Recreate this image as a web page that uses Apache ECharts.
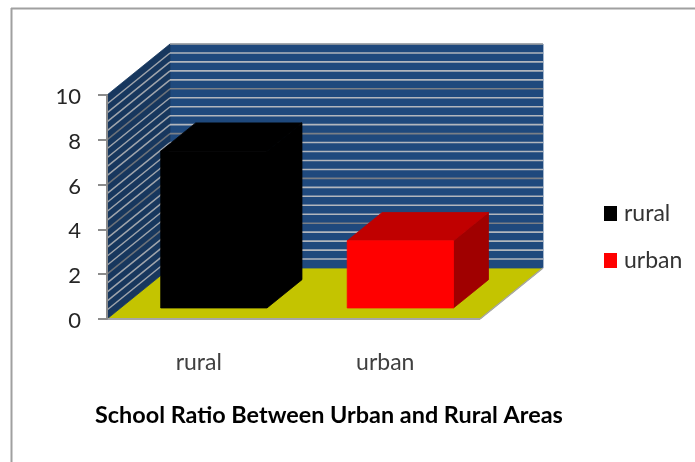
<!DOCTYPE html>
<html><head><meta charset="utf-8">
<style>html,body{margin:0;padding:0;background:#fff}#c{width:695px;height:462px}</style>
<script src="https://cdn.jsdelivr.net/npm/echarts@6/dist/echarts.min.js"></script>
</head><body><div id="c"></div>
<script>
const categories = ['rural', 'urban'];
const ruralValues = [['rural', 7]];
const urbanValues = [['urban', 3]];
const yTicks = { min: 0, max: 10, interval: 2 };
const stripeStep = 0.4;

const DEPTH_X = 63, DEPTH_Y = 51;
const BAR_NEAR = 0.216, BAR_FAR = 0.771, BAR_WIDTH = 0.57;
const FONT = 'Lato';

function poly(points, fill) {
  return { type: 'polygon', shape: { points }, style: { fill, stroke: fill, lineWidth: 0.8 } };
}
function seg(x1, y1, x2, y2, stroke, lineWidth) {
  return { type: 'line', shape: { x1, y1, x2, y2 }, style: { stroke, lineWidth } };
}

function renderWalls(params, api) {
  const r = params.coordSys;
  const x0 = r.x, x1 = r.x + r.width;
  const yBase = api.coord([0, yTicks.min])[1], yTop = api.coord([0, yTicks.max])[1];
  const children = [
    poly([[x0, yBase], [x0 + DEPTH_X, yBase - DEPTH_Y], [x1 + DEPTH_X, yBase - DEPTH_Y], [x1, yBase]], '#c4c400'),
    poly([[x0 + DEPTH_X, yTop - DEPTH_Y], [x1 + DEPTH_X, yTop - DEPTH_Y], [x1 + DEPTH_X, yBase - DEPTH_Y], [x0 + DEPTH_X, yBase - DEPTH_Y]], '#1f497d'),
    poly([[x0, yTop], [x0 + DEPTH_X, yTop - DEPTH_Y], [x0 + DEPTH_X, yBase - DEPTH_Y], [x0, yBase]], '#17375e')
  ];
  const count = Math.round((yTicks.max - yTicks.min) / stripeStep);
  for (let i = 1; i <= count; i++) {
    const v = yTicks.min + i * stripeStep;
    const y = api.coord([0, v])[1];
    const major = i % 5 === 0;
    const color = major ? '#7a7f86' : '#b2b6bd';
    children.push(seg(x0 + DEPTH_X, y - DEPTH_Y, x1 + DEPTH_X, y - DEPTH_Y, i === count ? '#a6a6a6' : color, 1.6));
    if (i < count) {
      children.push(seg(x0, y, x0 + DEPTH_X, y - DEPTH_Y, major ? '#6d7279' : '#a0a5ac', 1.5));
    }
  }
  children.push(seg(x0, yBase, x1, yBase, '#a6a6a6', 2));
  children.push(seg(x1, yBase, x1 + DEPTH_X, yBase - DEPTH_Y, '#a6a6a6', 1.5));
  return { type: 'group', children };
}

function barRenderer(frontColor, topColor, sideColor) {
  return function (params, api) {
    const base = api.coord([api.value(0), 0]);
    const top = api.coord([api.value(0), api.value(1)]);
    const w = api.size([1, 0])[0] * BAR_WIDTH;
    const l = base[0] - w / 2, r = base[0] + w / 2;
    const nx = DEPTH_X * BAR_NEAR, ny = DEPTH_Y * BAR_NEAR;
    const fx = DEPTH_X * BAR_FAR, fy = DEPTH_Y * BAR_FAR;
    return { type: 'group', children: [
      poly([[r + nx, top[1] - ny], [r + fx, top[1] - fy], [r + fx, base[1] - fy], [r + nx, base[1] - ny]], sideColor),
      poly([[l + nx, top[1] - ny], [l + fx, top[1] - fy], [r + fx, top[1] - fy], [r + nx, top[1] - ny]], topColor),
      poly([[l + nx, top[1] - ny], [r + nx, top[1] - ny], [r + nx, base[1] - ny], [l + nx, base[1] - ny]], frontColor)
    ]};
  };
}

const chart = echarts.init(document.getElementById('c'), null, { renderer: 'canvas' });
chart.setOption({
  animation: false,
  backgroundColor: '#fff',
  title: {
    text: 'School Ratio Between Urban and Rural Areas',
    left: 95, top: 404,
    padding: 0,
    textStyle: { fontFamily: FONT, fontWeight: 'bold', fontSize: 23.4, color: '#000' }
  },
  legend: {
    data: ['rural', 'urban'],
    orient: 'vertical',
    left: 604, top: 202,
    padding: 0,
    itemWidth: 13, itemHeight: 15, itemGap: 24,
    icon: 'rect',
    textStyle: { fontFamily: FONT, fontSize: 23, color: '#333', padding: [0, 0, 0, 2] }
  },
  grid: { left: 107, top: 95, width: 373, height: 224 },
  xAxis: {
    type: 'category',
    data: categories,
    z: 5,
    axisLine: { show: false },
    axisTick: { show: false },
    axisLabel: { margin: 32, fontFamily: FONT, fontSize: 23, color: '#404040', padding: [0, 3, 0, 0] }
  },
  yAxis: {
    type: 'value',
    min: yTicks.min, max: yTicks.max, interval: yTicks.interval,
    z: 5,
    axisLine: { show: true, lineStyle: { color: '#8c8c8c', width: 2 } },
    axisTick: { show: true, length: 9, lineStyle: { color: '#8c8c8c', width: 2 } },
    splitLine: { show: false },
    axisLabel: { margin: 26, fontFamily: FONT, fontSize: 22, color: '#262626', verticalAlign: 'top', lineHeight: 4 }
  },
  graphic: [
    { type: 'line', silent: true, z: 10, shape: { x1: 11, y1: 8.5, x2: 695, y2: 8.5 }, style: { stroke: '#a0a0a0', lineWidth: 2 } },
    { type: 'line', silent: true, z: 10, shape: { x1: 11.5, y1: 8, x2: 11.5, y2: 462 }, style: { stroke: '#a0a0a0', lineWidth: 2 } }
  ],
  series: [
    { type: 'custom', name: 'walls', z: 1, silent: true, clip: false, data: [[0, 0]], renderItem: renderWalls, encode: { x: 0, y: 1 } },
    { type: 'custom', name: 'rural', z: 2, clip: false, itemStyle: { color: '#000000' }, data: ruralValues, encode: { x: 0, y: 1 }, renderItem: barRenderer('#000000', '#000000', '#000000') },
    { type: 'custom', name: 'urban', z: 2, clip: false, itemStyle: { color: '#ff0000' }, data: urbanValues, encode: { x: 0, y: 1 }, renderItem: barRenderer('#ff0000', '#c00000', '#a00000') }
  ]
});
</script></body></html>
